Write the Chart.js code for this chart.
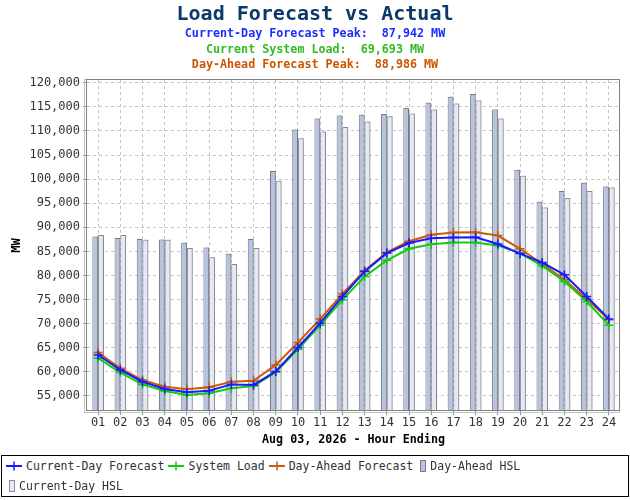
<!DOCTYPE html>
<html>
<head>
<meta charset="utf-8">
<title>Load Forecast vs Actual</title>
<script src="https://cdn.jsdelivr.net/npm/chart.js@4.4.1/dist/chart.umd.min.js"></script>
<style>
body{margin:0;background:#fff;font-family:"DejaVu Sans Mono",monospace;}
#wrap{position:relative;width:630px;height:500px;overflow:hidden;}
#chartBox{position:absolute;left:0;top:0;width:630px;height:455px;}
.head{position:absolute;left:0;width:630px;text-align:center;font-weight:bold;white-space:pre;z-index:2;}
#t0{top:0;height:26px;line-height:26px;font-size:20px;color:#0b3a68;}
#t1,#t2,#t3{height:16px;line-height:16px;font-size:11.7px;}
#t1{top:25px;color:#1a2cff;}
#t2{top:41px;color:#33bb22;}
#t3{top:56px;color:#cc5500;}
#legend{position:absolute;left:1px;top:455px;width:628px;height:42px;border:1px solid #000;box-sizing:border-box;
display:flex;flex-wrap:wrap;align-content:flex-start;padding-left:3px;font-size:11.5px;color:#333;}
.item{display:flex;align-items:center;height:20px;margin-right:3px;white-space:pre;}
.item canvas{margin-right:3px;}
</style>
</head>
<body>
<div id="wrap">
<div id="t0" class="head">Load Forecast vs Actual</div>
<div id="t1" class="head"></div>
<div id="t2" class="head"></div>
<div id="t3" class="head"></div>
<div id="chartBox"><canvas id="loadChart"></canvas></div>
<div id="legend"></div>
</div>

<script>
/* ============================= */
/* DATA */
/* ============================= */

const hours = ["01","02","03","04","05","06","07","08","09","10","11","12",
"13","14","15","16","17","18","19","20","21","22","23","24"]

const currentDayForecast = [63500,60400,57950,56450,55750,56100,57400,57300,60100,65050,70100,75650,
80850,84650,86750,87750,87900,87942,86550,84550,82700,80150,75650,71000]

const systemLoad = [62850,59850,57400,56050,55200,55550,56600,57050,59950,64700,69700,74950,
79800,83150,85550,86500,86850,86850,86250,84650,82000,78750,74600,69693]

const dayAheadForecast = [64000,60750,58300,56900,56400,56800,57950,58150,61450,66100,70950,76200,
81000,84800,87100,88450,88950,88986,88300,85550,82450,79100,75150,70800]

const dayAheadHsl = [88100,87800,87600,87500,86800,85800,84500,87600,101700,110300,112600,113200,
113350,113500,114750,115850,117100,117650,114450,101950,95300,97550,99250,98450]

const currentDayHsl = [88400,88400,87400,87400,85700,83800,82400,85700,99650,108500,109900,110850,
111950,113050,113650,114450,115700,116300,112600,100700,94100,96100,97550,98250]

const yTicks = [55000,60000,65000,70000,75000,80000,85000,90000,95000,100000,105000,110000,115000,120000]

const MONO = "'DejaVu Sans Mono', monospace"

const fmt = v => v.toLocaleString("en-US")


/* ============================= */
/* HEADER */
/* ============================= */

document.getElementById("t1").textContent = "Current-Day Forecast Peak:  " + fmt(Math.max(...currentDayForecast)) + " MW"
document.getElementById("t2").textContent = "Current System Load:  " + fmt(systemLoad[systemLoad.length-1]) + " MW"
document.getElementById("t3").textContent = "Day-Ahead Forecast Peak:  " + fmt(Math.max(...dayAheadForecast)) + " MW"


/* ============================= */
/* PLOT FRAME + BAR SHADOW */
/* ============================= */

const plotFrame = {
id:"plotFrame",
beforeDatasetDraw(chart, args){
if(args.meta.type !== "bar") return
const ctx = chart.ctx
ctx.save()
ctx.shadowColor = "rgba(120,120,120,0.45)"
ctx.shadowOffsetX = 2
ctx.shadowOffsetY = -1
ctx.shadowBlur = 0
},
afterDatasetDraw(chart, args){
if(args.meta.type !== "bar") return
chart.ctx.restore()
},
afterDraw(chart){
const {ctx, chartArea:a} = chart
ctx.save()
ctx.lineWidth = 1
ctx.strokeStyle = "#c4c4c4"
ctx.strokeRect(a.left-2.5, a.top-0.5, a.right-a.left+2, a.bottom-a.top+2)
ctx.strokeStyle = "#808080"
ctx.strokeRect(a.left-0.5, a.top-0.5, a.right-a.left, a.bottom-a.top)
ctx.restore()
}
}


/* ============================= */
/* CHART */
/* ============================= */

function lineSet(label, data, color, order){
return {
type:"line",
label:label,
data:data,
borderColor:color,
backgroundColor:color,
borderWidth:2,
pointStyle:"cross",
pointRadius:4.5,
pointBorderWidth:1.5,
pointBorderColor:color,
tension:0,
order:order
}
}

function barSet(label, data, fill, edge, order){
return {
type:"bar",
label:label,
data:data,
backgroundColor:fill,
borderColor:edge,
borderWidth:1,
barPercentage:1,
categoryPercentage:0.52,
order:order
}
}

const loadChart = new Chart(
document.getElementById("loadChart"),
{
type:"bar",

data:{
labels:hours,
datasets:[
lineSet("Current-Day Forecast", currentDayForecast, "#1a1aff", 0),
lineSet("System Load", systemLoad, "#11cc11", 1),
lineSet("Day-Ahead Forecast", dayAheadForecast, "#cc5a0a", 2),
barSet("Day-Ahead HSL", dayAheadHsl, "#b8c3df", "#767a84", 3),
barSet("Current-Day HSL", currentDayHsl, "#e5e9f5", "#8c8e96", 4)
]
},

options:{
animation:false,
responsive:true,
maintainAspectRatio:false,
layout:{padding:{top:80,right:10,left:0,bottom:0}},

plugins:{
legend:{display:false},
tooltip:{enabled:false}
},

scales:{
x:{
offset:true,
afterFit:s => { s.height = 44 },
grid:{offset:false, color:"#c4c4c4", tickColor:"#888", tickLength:4, tickBorderDash:[]},
border:{display:false, dash:[3,3]},
ticks:{color:"#333", font:{family:MONO, size:12}, padding:1, autoSkip:false, maxRotation:0},
title:{display:true, text:"Aug 03, 2026 - Hour Ending", color:"#000",
font:{family:MONO, size:11.7, weight:"bold"}, padding:{top:2, bottom:8}}
},
y:{
min:51880,
max:120580,
afterBuildTicks:s => { s.ticks = yTicks.map(v => ({value:v})) },
afterFit:s => { s.width = 87 },
grid:{color:"#c4c4c4", tickColor:"#888", tickLength:4, tickBorderDash:[]},
border:{display:false, dash:[3,3]},
ticks:{color:"#333", font:{family:MONO, size:12}, padding:3, callback:v => fmt(v)},
title:{display:true, text:"MW", color:"#000",
font:{family:MONO, size:12, weight:"bold"}, padding:{top:10, bottom:0}}
}
}
},

plugins:[plotFrame]
});


/* ============================= */
/* LEGEND */
/* ============================= */

function legendIcon(ds){
const c = document.createElement("canvas")
const g = c.getContext("2d")
if(ds.type === "line"){
c.width = 18; c.height = 14
g.strokeStyle = ds.borderColor
g.lineWidth = 2
g.beginPath(); g.moveTo(1,7); g.lineTo(17,7); g.stroke()
g.lineWidth = 1.5
g.beginPath(); g.moveTo(9,2.5); g.lineTo(9,11.5); g.stroke()
}else{
c.width = 8; c.height = 14
g.fillStyle = ds.backgroundColor
g.fillRect(1,1,6,12)
g.strokeStyle = ds.borderColor
g.lineWidth = 1
g.strokeRect(1.5,1.5,5,11)
c.style.marginLeft = "3px"
}
return c
}

const box = document.getElementById("legend")

loadChart.data.datasets.forEach(ds => {
const item = document.createElement("div")
item.className = "item"
item.appendChild(legendIcon(ds))
item.appendChild(document.createTextNode(ds.label))
box.appendChild(item)
})
</script>
</body>
</html>
